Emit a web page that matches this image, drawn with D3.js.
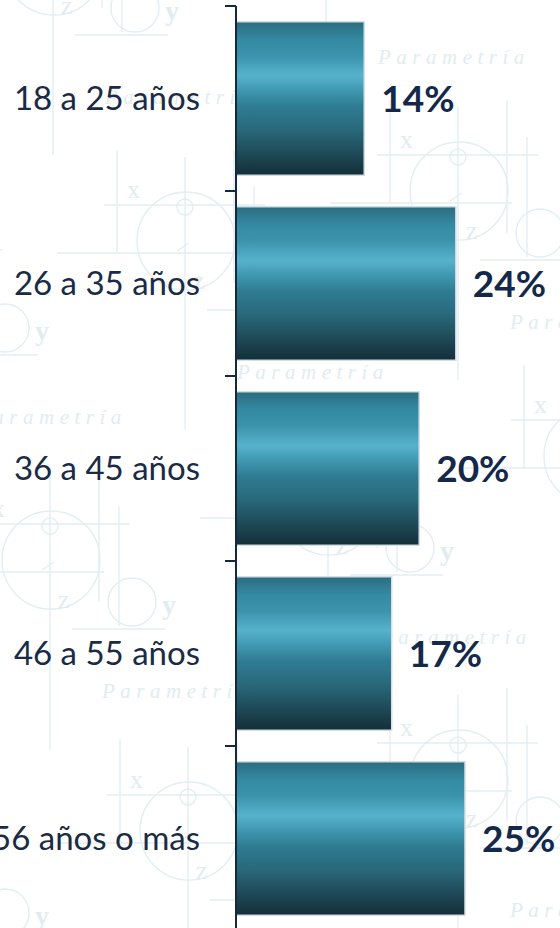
<!DOCTYPE html>
<html><head><meta charset="utf-8">
<script src="https://cdn.jsdelivr.net/npm/d3@7/dist/d3.min.js"></script>
<style>html,body{margin:0;padding:0;background:#fff;overflow:hidden}</style>
</head><body>
<svg id="c" width="560" height="928"></svg>
<script>
const categories = ["18 a 25 años","26 a 35 años","36 a 45 años","46 a 55 años","56 años o más"];
const values = [14, 24, 20, 17, 25];
const valueLabels = ["14%","24%","20%","17%","25%"];

const W = 560, H = 928;
const svg = d3.select("#c");
const defs = svg.append("defs");

// ---- decorative watermark (background motif) ----
const wmLine = "#e3eef2", wmText = "#e2ecf0";
const motifAnchors = [[53,-68],[326,-108],[185,207],[458,157],[-77,252],[592,422],[328,472],[50,526],[188,797],[458,745],[-77,837]];
const wm = svg.append("g").attr("class","watermark");
motifAnchors.forEach(([mx,my])=>{
  const g = wm.append("g").attr("transform",`translate(${mx},${my})`);
  const s = g.append("g").attr("stroke",wmLine).attr("fill","none").attr("stroke-width",1.4);
  s.append("circle").attr("cx",0).attr("cy",0).attr("r",8);
  s.append("circle").attr("cx",1).attr("cy",34).attr("r",49);
  s.append("circle").attr("cx",82).attr("cy",76).attr("r",24);
  [[-81,-2,80,-2],[-128,46,54,46],[22,103,115,103],[-68,-57,-68,46],[0,-50,0,223],[49,-57,49,76],[69,-20,69,100],[-8,44,4,36]]
    .forEach(([a,b,c,d])=>s.append("line").attr("x1",a).attr("y1",b).attr("x2",c).attr("y2",d));
  const t = g.append("g").attr("fill",wmText).attr("font-family","'Liberation Serif', serif");
  t.append("text").attr("x",-58).attr("y",-9).attr("font-size",26).text("x");
  t.append("text").attr("x",8).attr("y",82).attr("font-size",26).text("z");
  t.append("text").attr("x",112).attr("y",88).attr("font-size",28).attr("font-weight","bold").text("y");
  t.append("text").attr("x",52).attr("y",172).attr("font-size",21).attr("font-style","italic")
    .attr("letter-spacing",5.5).text("Parametría");
});

// ---- bar gradient ----
const grad = defs.append("linearGradient").attr("id","bg").attr("x1",0).attr("y1",0).attr("x2",0).attr("y2",1);
[[0,"#2c6c7e"],[0.12,"#348aa3"],[0.22,"#3b93ab"],[0.35,"#56b2cc"],[0.45,"#3f97b0"],[0.55,"#2f7c92"],[0.7,"#29697b"],[0.85,"#1f4b59"],[1,"#142e38"]]
  .forEach(([o,c])=>grad.append("stop").attr("offset",o).attr("stop-color",c));

const x0 = 236;
const x = d3.scaleLinear().domain([0, 25]).range([x0, 465]);
const y = d3.scaleBand().domain(categories).range([6, 931]).paddingInner(0.17).paddingOuter(0.085);
const step = y.step();
const top0 = 6;

// bars
svg.append("g").selectAll("rect").data(categories).join("rect")
  .attr("x", x0).attr("y", d=>y(d))
  .attr("width", (d,i)=>x(values[i]) - x0).attr("height", y.bandwidth())
  .attr("fill","url(#bg)").attr("stroke","#d3dfe8").attr("stroke-width",1.5);

// axis line and boundary ticks
const ax = svg.append("g").attr("stroke","#14283f").attr("stroke-width",2);
ax.append("line").attr("x1",x0).attr("x2",x0).attr("y1",top0).attr("y2",931);
d3.range(categories.length+1).forEach(i=>{
  ax.append("line").attr("x1",x0-11).attr("x2",x0).attr("y1",top0+i*step).attr("y2",top0+i*step);
});

// category labels
svg.append("g").selectAll("text").data(categories).join("text")
  .attr("x", 200).attr("y", d=>y(d)+y.bandwidth()/2)
  .attr("dy","0.34em").attr("text-anchor","end")
  .attr("font-family","Lato, 'Open Sans', sans-serif").attr("font-size",33)
  .attr("fill","#1a2b45").text(d=>d);

// value labels
svg.append("g").selectAll("text").data(categories).join("text")
  .attr("x", (d,i)=>x(values[i]) + 17).attr("y", d=>y(d)+y.bandwidth()/2)
  .attr("dy","0.36em").attr("text-anchor","start")
  .attr("font-family","Lato, 'Open Sans', sans-serif").attr("font-weight","bold").attr("font-size",37)
  .attr("fill","#14284a").text((d,i)=>valueLabels[i]);
</script>
</body></html>
